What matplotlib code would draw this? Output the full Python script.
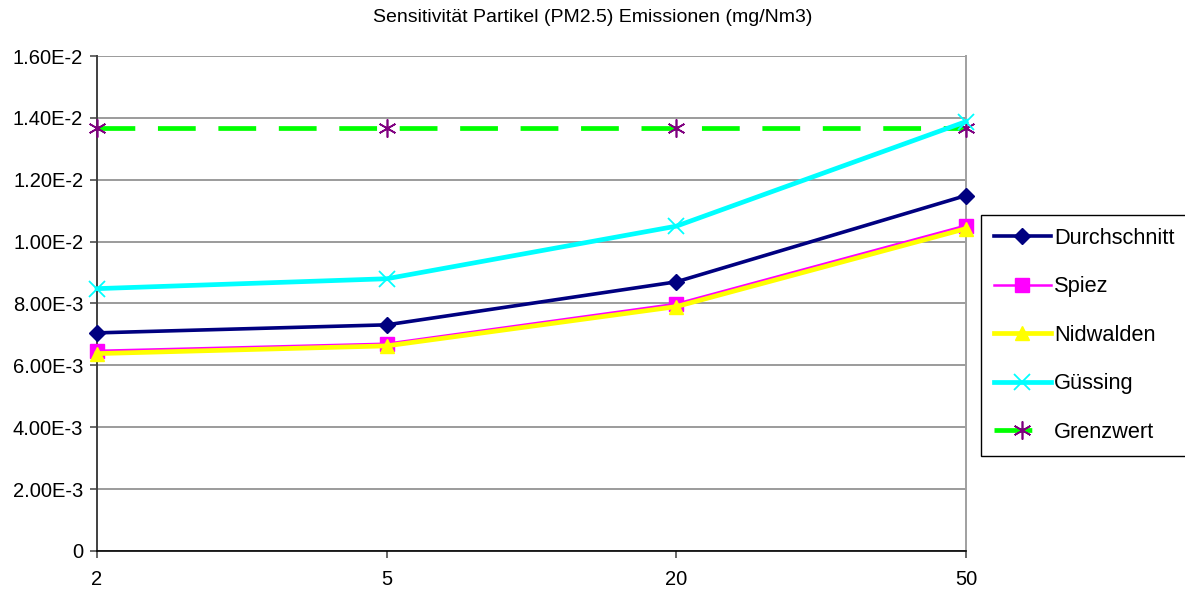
import matplotlib
matplotlib.use("Agg")
import matplotlib.pyplot as plt
from matplotlib.ticker import FixedLocator

plt.rcParams['font.family'] = ['Liberation Sans', 'DejaVu Sans']

# Sensitivitaet der Partikelemissionen je Szenario
kategorien = ["2", "5", "20", "50"]
durchschnitt = [7.05e-3, 7.31e-3, 8.70e-3, 11.49e-3]
spiez = [6.47e-3, 6.70e-3, 7.99e-3, 10.52e-3]
nidwalden = [6.38e-3, 6.63e-3, 7.90e-3, 10.42e-3]
guessing = [8.48e-3, 8.80e-3, 10.50e-3, 13.88e-3]
grenzwert = [13.66e-3, 13.66e-3, 13.66e-3, 13.66e-3]

y_ticks = [0, 2e-3, 4e-3, 6e-3, 8e-3, 1.0e-2, 1.2e-2, 1.4e-2, 1.6e-2]
y_labels = ["0", "2.00E-3", "4.00E-3", "6.00E-3", "8.00E-3",
            "1.00E-2", "1.20E-2", "1.40E-2", "1.60E-2"]

fig = plt.figure(figsize=(11.85, 5.92), dpi=100)
ax = fig.add_axes([0.0819, 0.0693, 0.7333, 0.8361])

x = range(len(kategorien))

ax.plot(x, durchschnitt, color="#000080", lw=2.6, marker="D", ms=8,
        label="Durchschnitt", zorder=5, clip_on=False)
ax.plot(x, spiez, color="#ff00ff", lw=1.8, marker="s", ms=10,
        label="Spiez", zorder=3, clip_on=False)
ax.plot(x, nidwalden, color="#ffff00", lw=3.4, marker="^", ms=10,
        label="Nidwalden", zorder=4, clip_on=False)
ax.plot(x, guessing, color="#00ffff", lw=3.4, marker="x", ms=11, mew=1.3,
        label="Güssing", zorder=4, clip_on=False)
ax.plot(x, grenzwert, color="#00ff00", lw=3.4, dashes=(8, 4.8),
        marker=(6, 2, 0), ms=13, mec="#800080", mfc="#800080", mew=1.2,
        label="Grenzwert", zorder=3, clip_on=False)

ax.set_xlim(0, 3)
ax.set_ylim(0, 1.6e-2)
ax.set_xticks(list(x))
ax.set_xticklabels(kategorien)
ax.yaxis.set_major_locator(FixedLocator(y_ticks))
ax.set_yticklabels(y_labels)

ax.grid(axis="y", color="#808080", lw=1.1)
ax.set_axisbelow(True)
ax.spines["top"].set_visible(False)
ax.spines["right"].set_color("#a0a0a0")
ax.spines["right"].set_linewidth(1.4)
ax.spines["left"].set_color("#404040")
ax.spines["left"].set_linewidth(1.4)
ax.spines["bottom"].set_color("#000000")
ax.spines["bottom"].set_linewidth(1.2)
ax.tick_params(axis="both", labelsize=14.5, length=5, width=1.1,
               direction="out", color="#404040", pad=5)
ax.tick_params(axis="x", pad=9)

# title is centred on the whole figure, not on the plot area
fig.text(0.5, 1 - 17 / 592, "Sensitivität Partikel (PM2.5) Emissionen (mg/Nm3)",
         fontsize=14, ha="center", va="center")

leg = ax.legend(loc="center left", bbox_to_anchor=(1.017, 0.436),
                fontsize=15.7, frameon=True, fancybox=False,
                edgecolor="#000000", framealpha=1, handlelength=2.6,
                handletextpad=0.15, labelspacing=1.26, borderpad=0.6,
                borderaxespad=0)
leg.get_frame().set_linewidth(1.0)

fig.savefig("out.png", dpi=100)
